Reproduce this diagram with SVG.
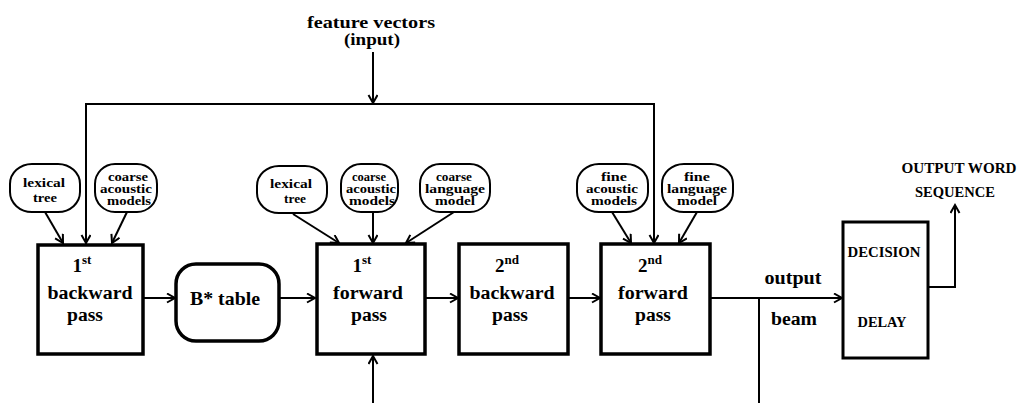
<svg xmlns="http://www.w3.org/2000/svg" width="1018" height="403" viewBox="0 0 1018 403">
<style>
.box{fill:#fff;stroke:#000;stroke-width:3.5}
.dbox{fill:#fff;stroke:#000;stroke-width:3}
.ov{fill:#fff;stroke:#000;stroke-width:2}
.ln{fill:none;stroke:#000;stroke-width:2}
text{font-family:'Liberation Serif',serif;font-weight:bold;fill:#000;text-anchor:middle}
.t{font-size:18px}
.tb{font-size:19px}
.sup{font-size:13px}
.s{font-size:12px}
.h{font-size:16px}
.c{font-size:14px}
</style>
<defs>
<marker id="ah" markerWidth="12" markerHeight="12" refX="9" refY="5" orient="auto" markerUnits="userSpaceOnUse">
<path d="M1,0.5 L9,5 L1,9.5" fill="none" stroke="#000" stroke-width="2"/>
</marker>
</defs>
<rect width="1018" height="403" fill="#fff"/>

<g id="input-label">
<text class="h" x="371" y="28" textLength="128" lengthAdjust="spacingAndGlyphs">feature vectors</text>
<text class="h" x="372" y="45" textLength="56" lengthAdjust="spacingAndGlyphs">(input)</text>
</g>

<g id="connectors">
<line class="ln" x1="373" y1="52" x2="373" y2="103" marker-end="url(#ah)"/>
<polyline class="ln" points="86,244 86,104 654,104 654,243" />
<line class="ln" x1="86" y1="200" x2="86" y2="243" marker-end="url(#ah)"/>
<line class="ln" x1="654" y1="200" x2="654" y2="243" marker-end="url(#ah)"/>
<line class="ln" x1="45" y1="212" x2="63" y2="243" marker-end="url(#ah)"/>
<line class="ln" x1="127" y1="212" x2="112" y2="243" marker-end="url(#ah)"/>
<line class="ln" x1="293" y1="214" x2="339" y2="243" marker-end="url(#ah)"/>
<line class="ln" x1="373" y1="212" x2="373" y2="243" marker-end="url(#ah)"/>
<line class="ln" x1="454" y1="212" x2="406" y2="243" marker-end="url(#ah)"/>
<line class="ln" x1="612" y1="212" x2="631" y2="243" marker-end="url(#ah)"/>
<line class="ln" x1="697" y1="212" x2="679" y2="243" marker-end="url(#ah)"/>
<line class="ln" x1="144" y1="298" x2="175" y2="298" marker-end="url(#ah)"/>
<line class="ln" x1="280" y1="298" x2="315" y2="298" marker-end="url(#ah)"/>
<line class="ln" x1="426" y1="298" x2="458" y2="298" marker-end="url(#ah)"/>
<line class="ln" x1="569" y1="298" x2="600" y2="298" marker-end="url(#ah)"/>
<line class="ln" x1="711" y1="298" x2="842" y2="298" marker-end="url(#ah)"/>
<line class="ln" x1="759" y1="298" x2="759" y2="403"/>
<line class="ln" x1="373" y1="403" x2="373" y2="356" marker-end="url(#ah)"/>
<polyline class="ln" points="929,287 955,287 955,205" marker-end="url(#ah)"/>
</g>

<g id="ov-lexical1">
<rect class="ov" x="10" y="164" width="70" height="48" rx="22" ry="20"/>
<text class="s" x="44" y="187" textLength="42" lengthAdjust="spacingAndGlyphs">lexical</text>
<text class="s" x="45" y="202" textLength="24" lengthAdjust="spacingAndGlyphs">tree</text>
</g>
<g id="ov-coarse-ac1">
<rect class="ov" x="95" y="164" width="62" height="48" rx="20" ry="20"/>
<text class="s" x="128" y="181" textLength="40" lengthAdjust="spacingAndGlyphs">coarse</text>
<text class="s" x="126" y="193" textLength="52" lengthAdjust="spacingAndGlyphs">acoustic</text>
<text class="s" x="129" y="205" textLength="44" lengthAdjust="spacingAndGlyphs">models</text>
</g>
<g id="ov-lexical2">
<rect class="ov" x="257" y="166" width="70" height="47" rx="22" ry="20"/>
<text class="s" x="291" y="188" textLength="42" lengthAdjust="spacingAndGlyphs">lexical</text>
<text class="s" x="295" y="203" textLength="22" lengthAdjust="spacingAndGlyphs">tree</text>
</g>
<g id="ov-coarse-ac2">
<rect class="ov" x="341" y="164" width="57" height="48" rx="20" ry="20"/>
<text class="s" x="369" y="181" textLength="34" lengthAdjust="spacingAndGlyphs">coarse</text>
<text class="s" x="371" y="193" textLength="50" lengthAdjust="spacingAndGlyphs">acoustic</text>
<text class="s" x="372" y="205" textLength="46" lengthAdjust="spacingAndGlyphs">models</text>
</g>
<g id="ov-coarse-lm">
<rect class="ov" x="420" y="164" width="70" height="48" rx="20" ry="20"/>
<text class="s" x="454" y="181" textLength="36" lengthAdjust="spacingAndGlyphs">coarse</text>
<text class="s" x="455" y="193" textLength="60" lengthAdjust="spacingAndGlyphs">language</text>
<text class="s" x="455" y="205" textLength="40" lengthAdjust="spacingAndGlyphs">model</text>
</g>
<g id="ov-fine-ac">
<rect class="ov" x="577" y="164" width="71" height="48" rx="22" ry="20"/>
<text class="s" x="614" y="181" textLength="26" lengthAdjust="spacingAndGlyphs">fine</text>
<text class="s" x="612" y="193" textLength="52" lengthAdjust="spacingAndGlyphs">acoustic</text>
<text class="s" x="614" y="205" textLength="46" lengthAdjust="spacingAndGlyphs">models</text>
</g>
<g id="ov-fine-lm">
<rect class="ov" x="662" y="164" width="71" height="48" rx="22" ry="20"/>
<text class="s" x="697" y="181" textLength="26" lengthAdjust="spacingAndGlyphs">fine</text>
<text class="s" x="697" y="193" textLength="60" lengthAdjust="spacingAndGlyphs">language</text>
<text class="s" x="697" y="205" textLength="40" lengthAdjust="spacingAndGlyphs">model</text>
</g>

<g id="box-1st-backward">
<rect class="box" x="38" y="245" width="105" height="109"/>
<text class="tb" x="82" y="272">1<tspan class="sup" dy="-8">st</tspan></text>
<text class="t" x="90" y="299" textLength="85" lengthAdjust="spacingAndGlyphs">backward</text>
<text class="t" x="85" y="321" textLength="36" lengthAdjust="spacingAndGlyphs">pass</text>
</g>
<g id="box-bstar">
<rect class="box" x="176" y="264" width="103" height="77" rx="20" ry="20"/>
<text class="tb" x="225" y="305" textLength="70" lengthAdjust="spacingAndGlyphs">B* table</text>
</g>
<g id="box-1st-forward">
<rect class="box" x="317" y="244" width="108" height="110"/>
<text class="tb" x="362" y="272">1<tspan class="sup" dy="-8">st</tspan></text>
<text class="t" x="368" y="299" textLength="70" lengthAdjust="spacingAndGlyphs">forward</text>
<text class="t" x="369" y="321" textLength="36" lengthAdjust="spacingAndGlyphs">pass</text>
</g>
<g id="box-2nd-backward">
<rect class="box" x="459" y="244" width="109" height="110"/>
<text class="tb" x="507" y="272">2<tspan class="sup" dy="-8">nd</tspan></text>
<text class="t" x="512" y="299" textLength="85" lengthAdjust="spacingAndGlyphs">backward</text>
<text class="t" x="510" y="321" textLength="36" lengthAdjust="spacingAndGlyphs">pass</text>
</g>
<g id="box-2nd-forward">
<rect class="box" x="601" y="244" width="109" height="110"/>
<text class="tb" x="650" y="272">2<tspan class="sup" dy="-8">nd</tspan></text>
<text class="t" x="653" y="299" textLength="70" lengthAdjust="spacingAndGlyphs">forward</text>
<text class="t" x="653" y="321" textLength="36" lengthAdjust="spacingAndGlyphs">pass</text>
</g>
<g id="box-decision">
<rect class="dbox" x="843" y="222" width="85" height="136"/>
<text class="c" x="884" y="257" textLength="73" lengthAdjust="spacingAndGlyphs">DECISION</text>
<text class="c" x="882" y="327" textLength="49" lengthAdjust="spacingAndGlyphs">DELAY</text>
</g>

<g id="labels">
<text class="t" x="793" y="284" textLength="57" lengthAdjust="spacingAndGlyphs">output</text>
<text class="t" x="794" y="325" textLength="46" lengthAdjust="spacingAndGlyphs">beam</text>
<text class="c" x="959" y="173" style="font-size:15px" textLength="115" lengthAdjust="spacingAndGlyphs">OUTPUT WORD</text>
<text class="c" x="955" y="197" style="font-size:15px" textLength="80" lengthAdjust="spacingAndGlyphs">SEQUENCE</text>
</g>
</svg>
